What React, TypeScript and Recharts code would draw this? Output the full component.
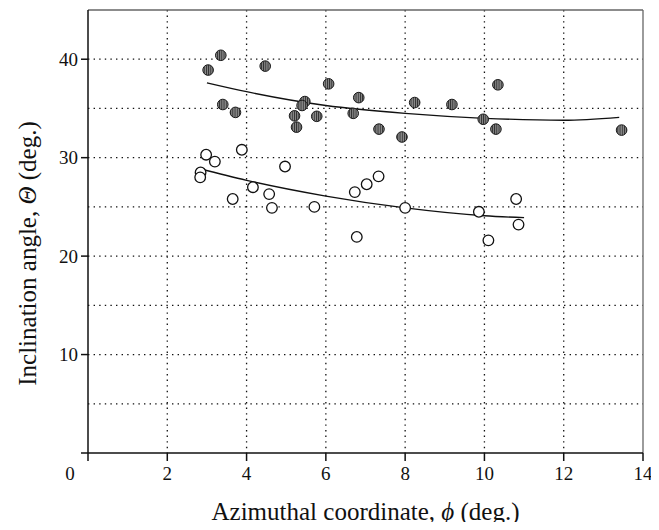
import {
  ComposedChart,
  CartesianGrid,
  Line,
  ReferenceLine,
  Scatter,
  XAxis,
  YAxis,
} from "recharts";

// hatched (filled) markers
const FILLED_X = [3.03, 3.35, 4.47, 6.07, 6.83, 3.4, 3.72, 5.47, 5.4, 5.21, 5.77, 5.26, 6.69, 7.34, 7.92, 8.24, 9.18, 9.97, 10.34, 10.29, 13.46];
const FILLED_Y = [38.9, 40.4, 39.3, 37.5, 36.1, 35.4, 34.6, 35.7, 35.3, 34.25, 34.2, 33.1, 34.5, 32.9, 32.1, 35.6, 35.4, 33.9, 37.4, 32.9, 32.8];

// open markers
const OPEN_X = [2.98, 3.2, 3.88, 2.84, 2.83, 4.97, 4.16, 3.65, 4.57, 4.64, 5.71, 6.73, 6.78, 7.03, 7.33, 8.0, 9.86, 10.1, 10.8, 10.86];
const OPEN_Y = [30.3, 29.6, 30.8, 28.5, 28.0, 29.1, 27.0, 25.8, 26.3, 24.9, 25.0, 26.5, 21.95, 27.3, 28.1, 24.9, 24.5, 21.6, 25.8, 23.2];

// fitted curves
const UPPER_FIT_X = [3.0, 4.0, 6.0, 8.0, 10.0, 12.0, 13.4];
const UPPER_FIT_Y = [37.6, 36.7, 35.3, 34.5, 34.0, 33.8, 34.1];
const LOWER_FIT_X = [2.8, 4.0, 6.0, 8.0, 10.0, 11.0];
const LOWER_FIT_Y = [28.9, 27.7, 26.1, 24.9, 24.1, 23.9];

const X_TICKS = [0, 2, 4, 6, 8, 10, 12, 14];
const Y_TICKS = [0, 10, 20, 30, 40];
const X_GRID = [2, 4, 6, 8, 10, 12];
const Y_GRID = [5, 10, 15, 20, 25, 30, 35, 40];

const zip = (xs: number[], ys: number[]) => xs.map((x, i) => ({ x, y: ys[i] }));

const filled = zip(FILLED_X, FILLED_Y);
const open = zip(OPEN_X, OPEN_Y);
const upperFit = zip(UPPER_FIT_X, UPPER_FIT_Y);
const lowerFit = zip(LOWER_FIT_X, LOWER_FIT_Y);

const FONT = "'Liberation Serif', 'DejaVu Serif', serif";

const HatchDot = (p: any) => (
  <g>
    <defs>
      <pattern id="vhatch" width="2.2" height="4" patternUnits="userSpaceOnUse">
        <rect width="2.2" height="4" fill="#8c8c8c" />
        <rect width="0.9" height="4" fill="#2a2a2a" />
      </pattern>
    </defs>
    <circle cx={p.cx} cy={p.cy} r={5.3} fill="url(#vhatch)" stroke="#1a1a1a" strokeWidth={1} />
  </g>
);

const OpenDot = (p: any) => (
  <circle cx={p.cx} cy={p.cy} r={5.3} fill="#fff" stroke="#111" strokeWidth={1.3} />
);

const XTick = (p: any) => {
  const v = p.payload.value;
  return (
    <text
      x={p.x + (v === 0 ? -18 : 0)}
      y={p.y}
      dy="0.71em"
      textAnchor="middle"
      fill="#111"
      fontSize={19}
      fontFamily={FONT}
    >
      {v}
    </text>
  );
};

const YTick = (p: any) => {
  const v = p.payload.value;
  if (v === 0) return null;
  return (
    <text x={p.x} y={p.y} dy="0.35em" textAnchor="end" fill="#111" fontSize={19} fontFamily={FONT}>
      {v}
    </text>
  );
};

const YLabel = ({ viewBox }: any) => {
  const cx = 19;
  const cy = viewBox.y + viewBox.height / 2 + 22;
  return (
    <text
      x={cx}
      y={cy}
      transform={`rotate(-90 ${cx} ${cy})`}
      textAnchor="middle"
      dominantBaseline="central"
      fontSize={25}
      fontFamily={FONT}
      fill="#111"
    >
      Inclination angle, <tspan fontStyle="italic">Θ</tspan> (deg.)
    </text>
  );
};

const XLabel = ({ viewBox }: any) => {
  const cx = viewBox.x + viewBox.width / 2;
  const cy = 503;
  return (
    <text x={cx} y={cy} textAnchor="middle" dominantBaseline="central" fontSize={25} fontFamily={FONT} fill="#111">
      Azimuthal coordinate, <tspan fontStyle="italic">ϕ</tspan> (deg.)
    </text>
  );
};

export default function App() {
  return (
    <div style={{ width: 643, height: 514, background: "#fff" }}>
      <ComposedChart width={643} height={522} margin={{ top: 2, right: 8, bottom: 0, left: 0 }}>
        <CartesianGrid
          horizontalValues={Y_GRID}
          verticalValues={X_GRID}
          stroke="#111"
          strokeWidth={1.3}
          strokeDasharray="1.4 4.2"
        />
        <XAxis
          type="number"
          dataKey="x"
          domain={[0, 14]}
          ticks={X_TICKS}
          height={77}
          stroke="#111"
          strokeWidth={1.5}
          tickSize={8}
          tick={<XTick />}
          tickMargin={6}
          label={<XLabel />}
          allowDataOverflow
        />
        <YAxis
          type="number"
          dataKey="y"
          domain={[0, 45]}
          ticks={Y_TICKS}
          width={80}
          stroke="#111"
          strokeWidth={1.5}
          tickSize={7}
          tickMargin={3}
          tick={<YTick />}
          label={<YLabel />}
          allowDataOverflow
        />
        <ReferenceLine y={45} stroke="#666" strokeWidth={1.3} />
        <ReferenceLine x={14} stroke="#666" strokeWidth={1.3} />
        <Line data={upperFit} dataKey="y" type="monotone" stroke="#111" strokeWidth={1.3} dot={false} isAnimationActive={false} />
        <Line data={lowerFit} dataKey="y" type="monotone" stroke="#111" strokeWidth={1.3} dot={false} isAnimationActive={false} />
        <Scatter data={open} dataKey="y" shape={<OpenDot />} isAnimationActive={false} />
        <Scatter data={filled} dataKey="y" shape={<HatchDot />} isAnimationActive={false} />
      </ComposedChart>
    </div>
  );
}
